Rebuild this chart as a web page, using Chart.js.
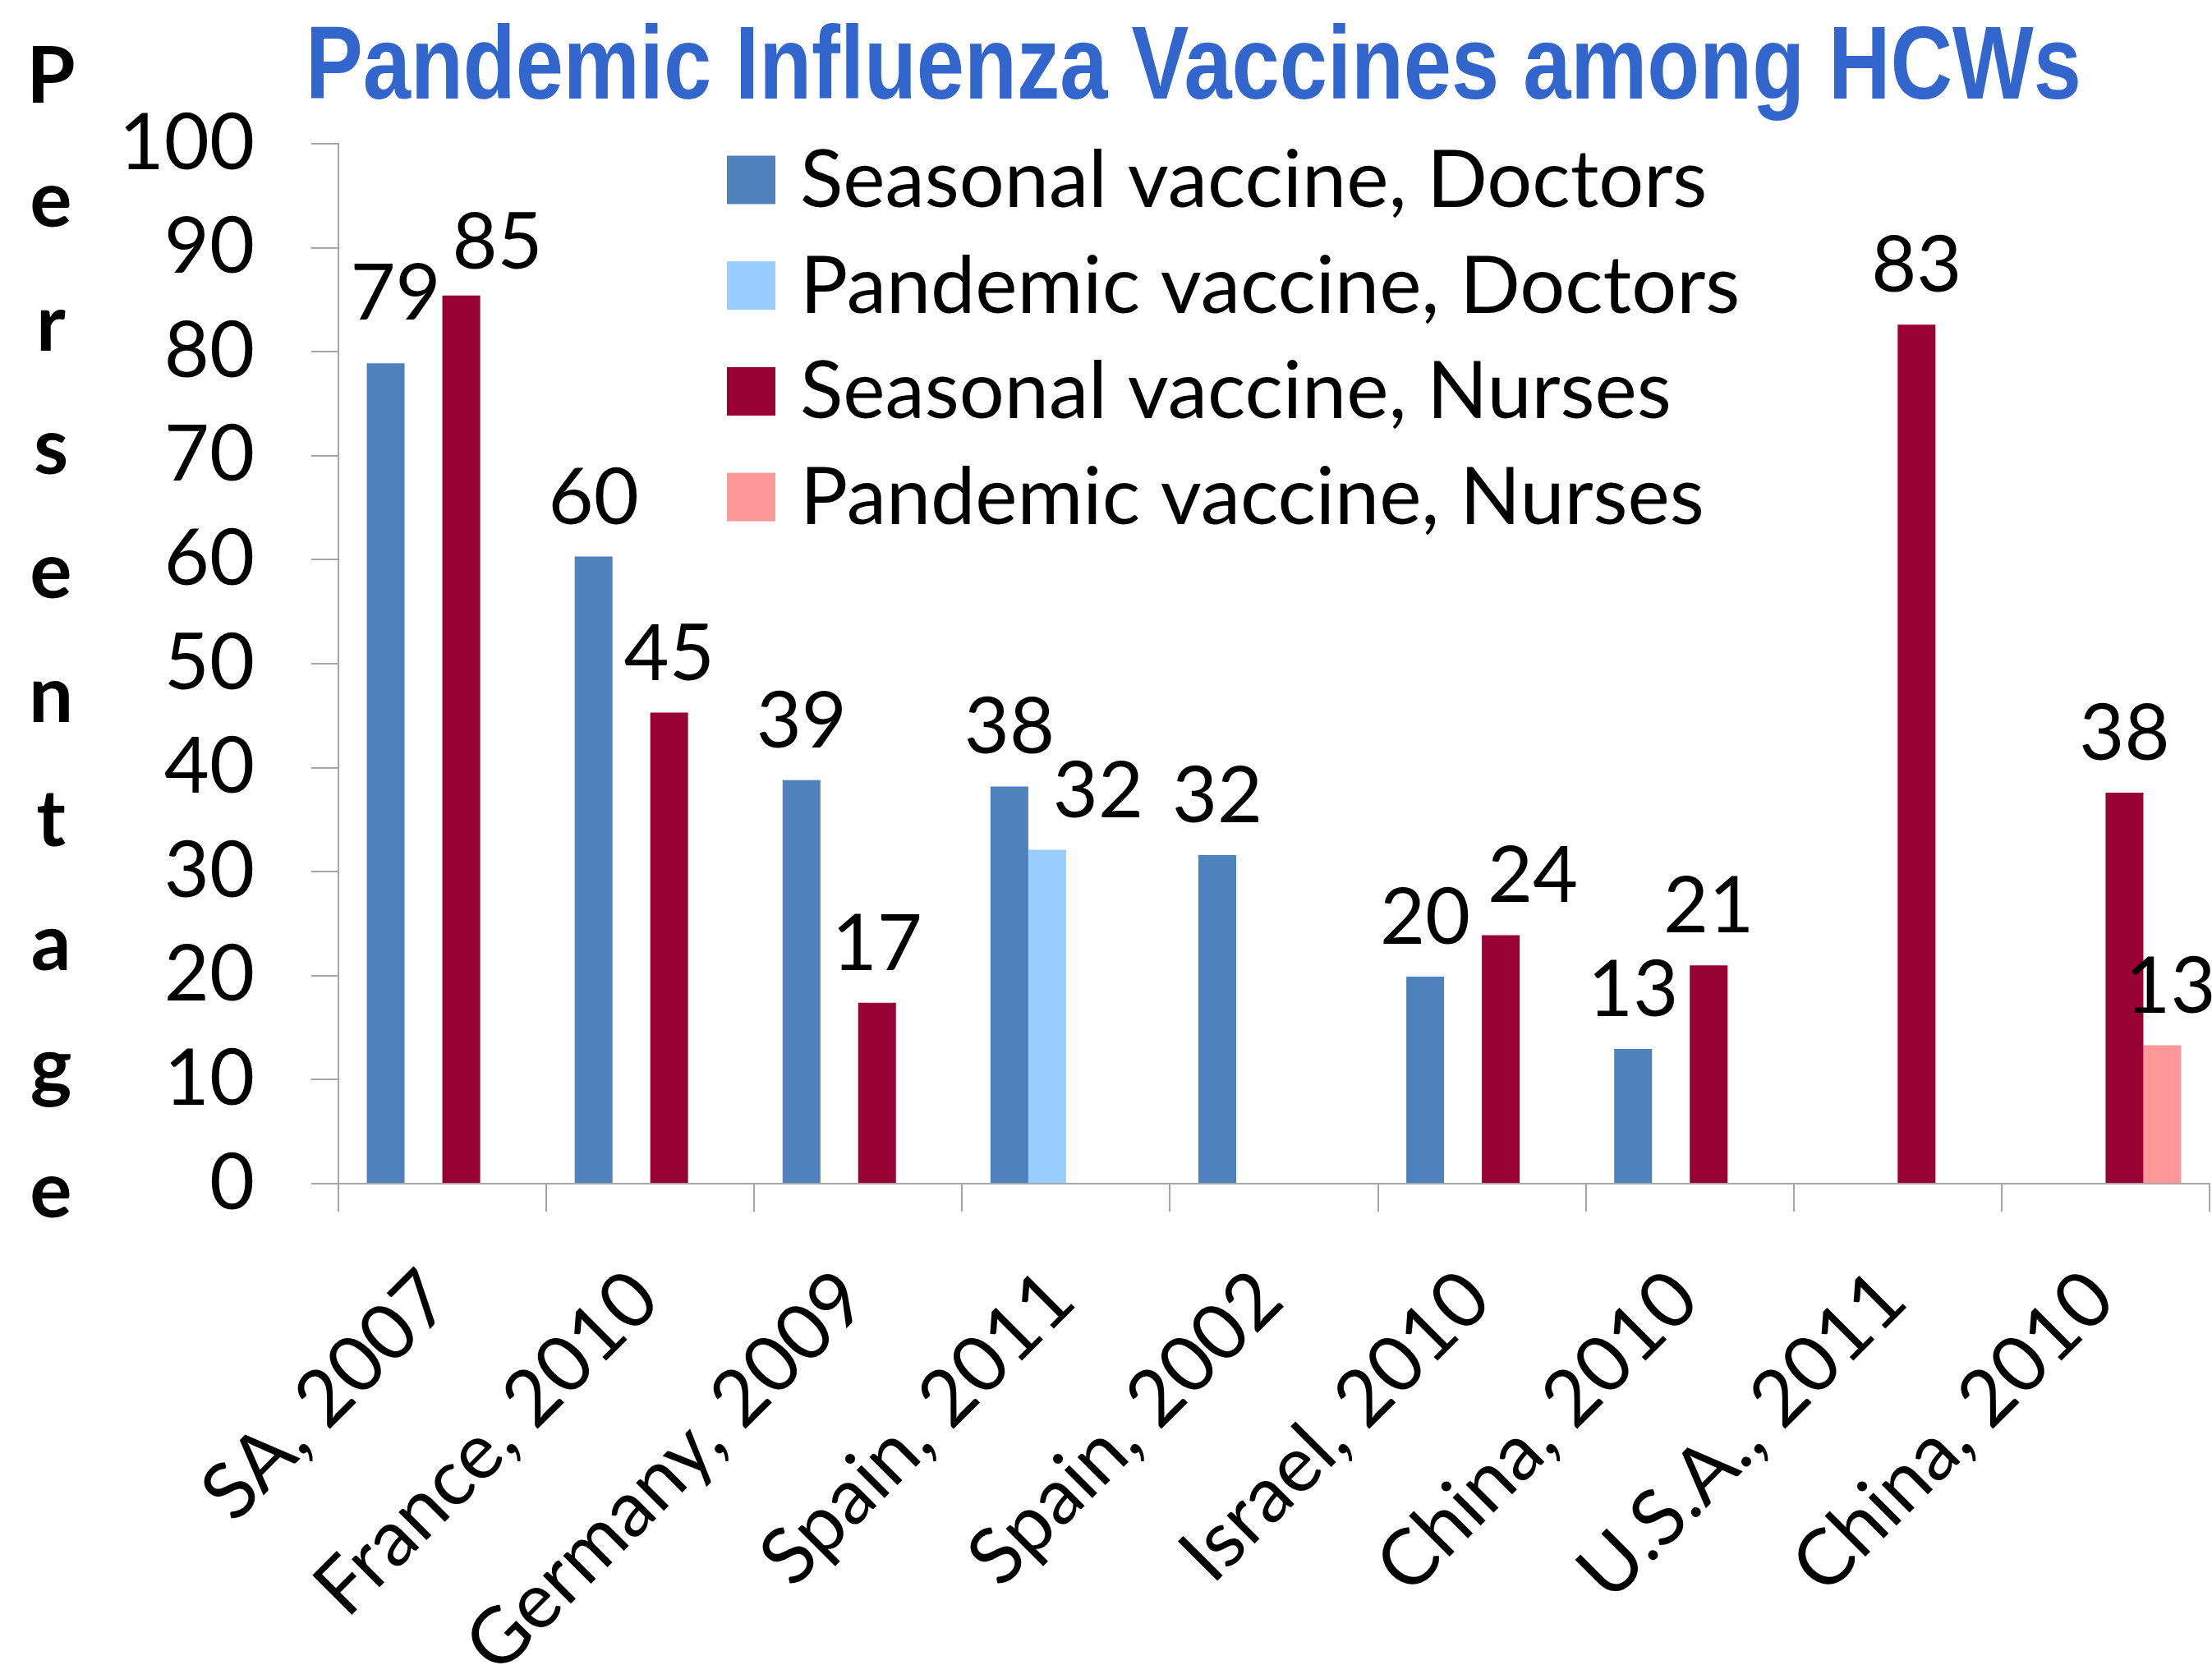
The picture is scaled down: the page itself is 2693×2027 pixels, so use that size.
<!DOCTYPE html>
<html>
<head>
<meta charset="utf-8">
<title>Pandemic Influenza Vaccines among HCWs</title>
<script src="https://cdn.jsdelivr.net/npm/chart.js@4.4.1/dist/chart.umd.min.js"></script>
<style>
  html, body { margin: 0; padding: 0; background: #fff; }
  #wrap { width: 2693px; height: 2027px; position: relative; }
</style>
</head>
<body>
<div id="wrap"><canvas id="chart"></canvas></div>
<script>
// ---------- data ----------
const chartTitle = 'Pandemic Influenza Vaccines among HCWs';
const yTitle     = 'Persentage';

const categories = ['SA, 2007', 'France, 2010', 'Germany, 2009', 'Spain, 2011', 'Spain, 2002',
                    'Israel, 2010', 'China, 2010', 'U.S.A., 2011', 'China, 2010'];

const seasonalDoctors = [78.9, 60.3, 38.8, 38.2, 31.6, 19.9, 12.95, null, null];
const pandemicDoctors = [null, null, null, 32.1, null, null, null, null, null];
const seasonalNurses  = [85.4, 45.3, 17.4, null, null, 23.9, 21.0, 82.6, 37.6];
const pandemicNurses  = [null, null, null, null, null, null, null, null, 13.3];

const seriesNames  = ['Seasonal vaccine, Doctors', 'Pandemic vaccine, Doctors',
                      'Seasonal vaccine, Nurses', 'Pandemic vaccine, Nurses'];
const seriesColors = ['#4F81BD', '#99CCFF', '#990033', '#FF9999'];

const yMin = 0, yMax = 100, yStep = 10;

// ---------- look ----------
const FONT = 'Lato, "Open Sans", sans-serif';
const AXIS_GREY = '#A6A6A6';

// a few value labels were nudged sideways on the slide so they don't collide
const labelNudge = {
  '0-0': [12, -13],
  '2-0': [44, 7],
  '1-3': [62, 0],
  '2-5': [39, 0],
  '3-8': [10, 0]
};

/* value labels above every bar */
const valueLabels = {
  id: 'valueLabels',
  afterDatasetsDraw(chart, args, opts) {
    const ctx = chart.ctx;
    ctx.save();
    ctx.font = '95px ' + FONT;
    ctx.fillStyle = '#000';
    ctx.textAlign = 'center';
    ctx.textBaseline = 'alphabetic';
    chart.data.datasets.forEach((ds, i) => {
      chart.getDatasetMeta(i).data.forEach((bar, j) => {
        const v = ds.data[j];
        if (v == null) return;
        const [dx, dy] = (opts.nudge || {})[i + '-' + j] || [0, 0];
        ctx.fillText(String(Math.round(v)), bar.x + dx, bar.y - 40 + dy);
      });
    });
    ctx.restore();
  }
};

/* legend sits inside the plot, upper middle */
const insideLegend = {
  id: 'insideLegend',
  afterDraw(chart) {
    const ctx = chart.ctx;
    ctx.save();
    ctx.font = '97px ' + FONT;
    ctx.textBaseline = 'alphabetic';
    chart.data.datasets.forEach((ds, i) => {
      const cy = 219 + i * 128.7;
      ctx.fillStyle = ds.backgroundColor;
      ctx.fillRect(885, cy - 29.5, 59, 59);
      ctx.fillStyle = '#000';
      ctx.fillText(ds.label, 974, cy + 33);
    });
    ctx.restore();
  }
};

/* big condensed blue title */
const slideTitle = {
  id: 'slideTitle',
  afterDraw(chart) {
    const ctx = chart.ctx;
    ctx.save();
    ctx.font = 'bold 126px "Liberation Sans Narrow", "Arial Narrow", "Liberation Sans", sans-serif';
    ctx.fillStyle = '#3366CC';
    ctx.textBaseline = 'alphabetic';
    const w = ctx.measureText(chartTitle).width;
    ctx.translate(372, 120);
    ctx.scale(2162 / w, 1);
    ctx.fillText(chartTitle, 0, 0);
    ctx.restore();
  }
};

/* y title written as a column of letters */
const stackedYTitle = {
  id: 'stackedYTitle',
  afterDraw(chart) {
    const ctx = chart.ctx;
    ctx.save();
    ctx.font = 'bold 96px ' + FONT;
    ctx.fillStyle = '#000';
    ctx.textAlign = 'center';
    ctx.textBaseline = 'alphabetic';
    [...yTitle].forEach((ch, i) => ctx.fillText(ch, 62, 125 + i * 150.8));
    ctx.restore();
  }
};

const seriesData = [seasonalDoctors, pandemicDoctors, seasonalNurses, pandemicNurses];

new Chart(document.getElementById('chart'), {
  type: 'bar',
  data: {
    labels: categories,
    datasets: seriesNames.map((name, i) => ({
      label: name,
      data: seriesData[i],
      backgroundColor: seriesColors[i],
      borderWidth: 0,
      categoryPercentage: 0.727,
      barPercentage: 1
    }))
  },
  options: {
    responsive: true,
    maintainAspectRatio: false,
    animation: false,
    devicePixelRatio: 1,
    layout: { padding: { left: 0, right: 3, top: 175, bottom: 0 } },
    plugins: {
      legend: { display: false },
      title: { display: false },
      tooltip: { enabled: false },
      valueLabels: { nudge: labelNudge }
    },
    scales: {
      x: {
        grid: { offset: true, drawOnChartArea: false, drawTicks: true, tickLength: 34,
                color: AXIS_GREY, lineWidth: 2 },
        border: { color: AXIS_GREY, width: 2 },
        ticks: { autoSkip: false, minRotation: 45, maxRotation: 45, padding: 50, labelOffset: -6,
                 color: '#000', font: { family: FONT, size: 95 } },
        afterFit(scale) { scale.height = 586; scale.paddingLeft = 0; scale.paddingRight = 0; }
      },
      y: {
        min: yMin, max: yMax,
        grid: { drawOnChartArea: false, drawTicks: true, tickLength: 33,
                color: AXIS_GREY, lineWidth: 2 },
        border: { color: AXIS_GREY, width: 2 },
        ticks: { stepSize: yStep, padding: 69, color: '#000', font: { family: FONT, size: 95 } },
        afterFit(scale) { scale.width = 412; }
      }
    }
  },
  plugins: [valueLabels, insideLegend, slideTitle, stackedYTitle]
});
</script>
</body>
</html>
